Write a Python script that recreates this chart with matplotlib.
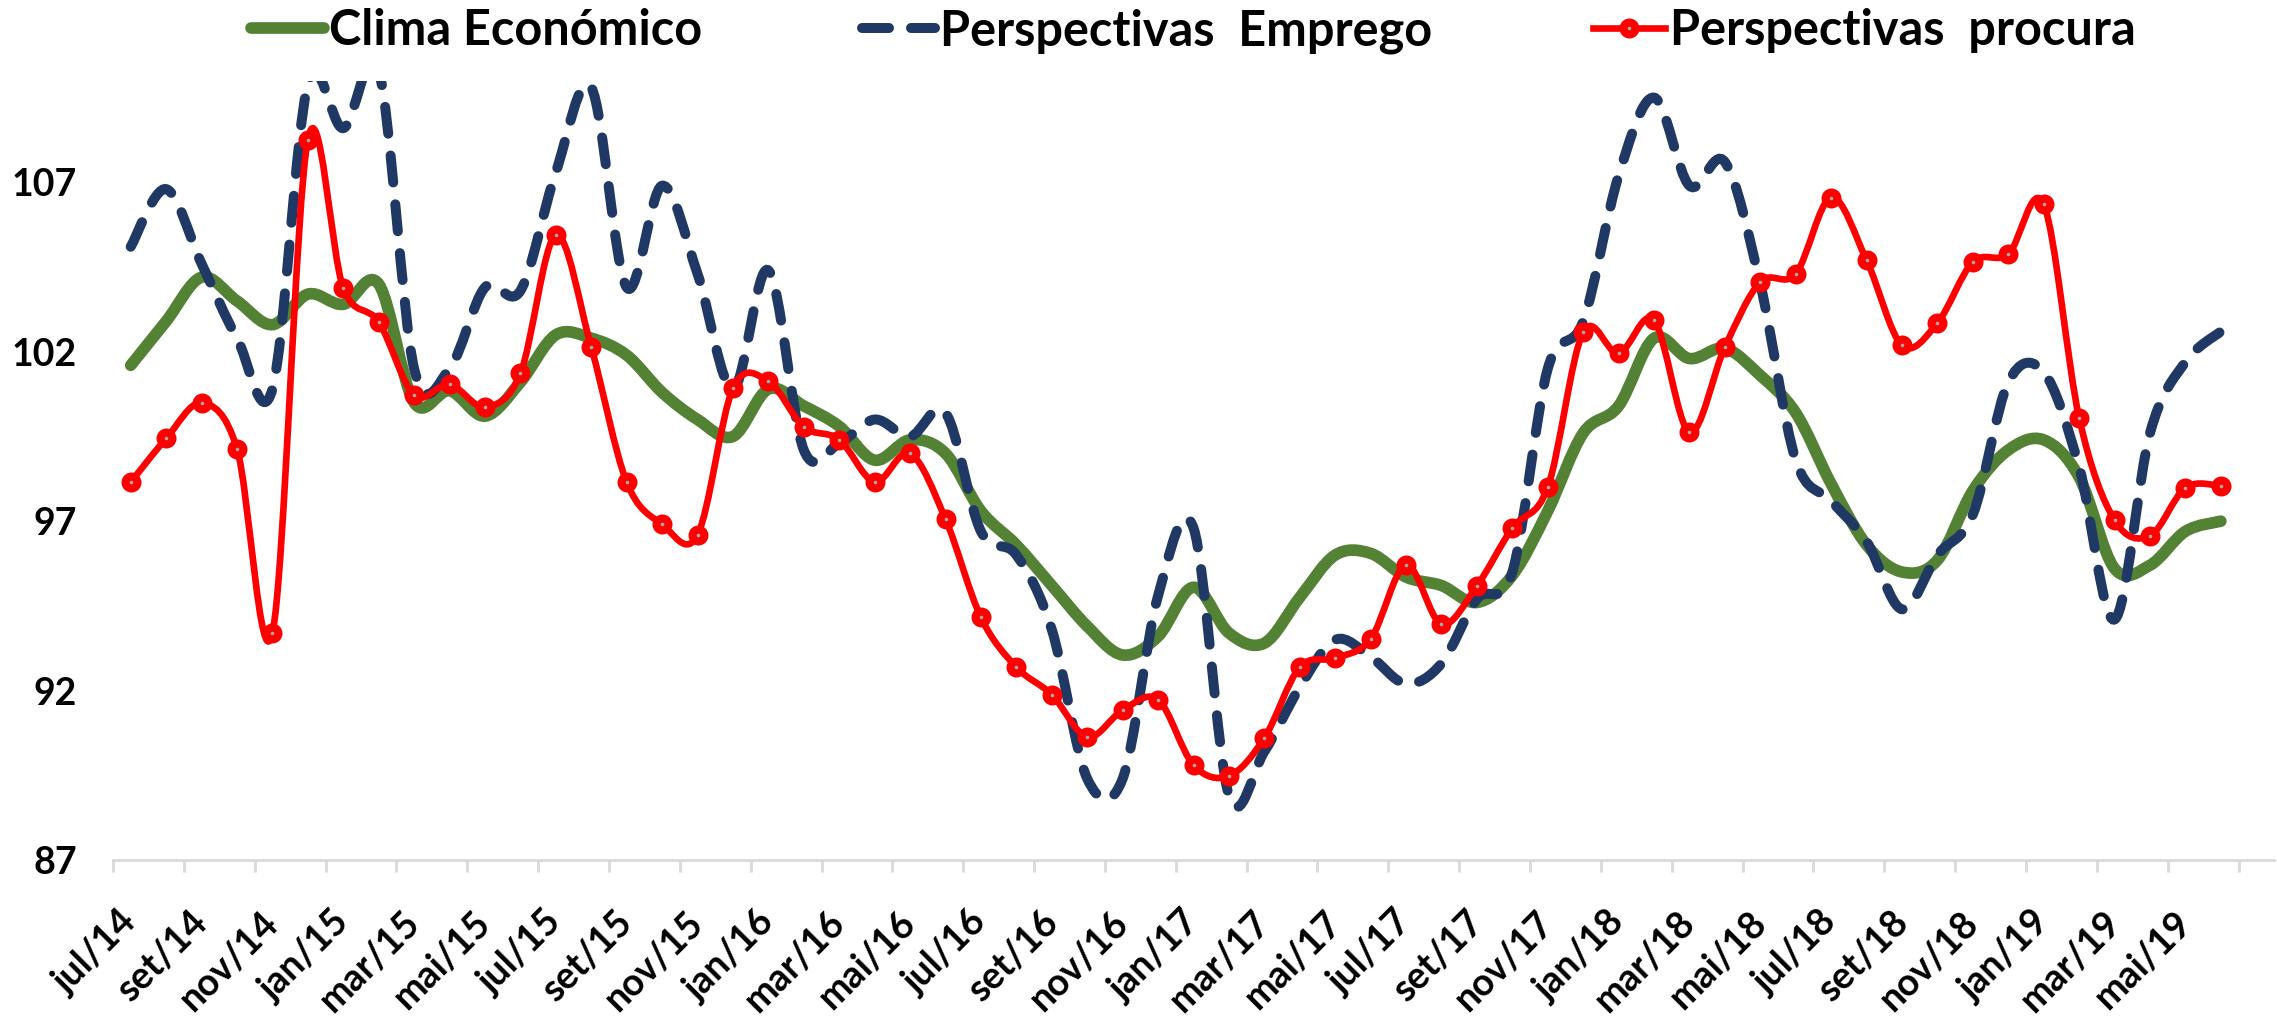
import numpy as np
import matplotlib
matplotlib.use("Agg")
import matplotlib.pyplot as plt
from matplotlib.path import Path
from matplotlib.patches import PathPatch
from matplotlib.lines import Line2D

# monthly data, jul/14 .. jun/19 (labels every 2nd month)
labels = ["jul/14", "set/14", "nov/14", "jan/15", "mar/15", "mai/15",
          "jul/15", "set/15", "nov/15", "jan/16", "mar/16", "mai/16",
          "jul/16", "set/16", "nov/16", "jan/17", "mar/17", "mai/17",
          "jul/17", "set/17", "nov/17", "jan/18", "mar/18", "mai/18",
          "jul/18", "set/18", "nov/18", "jan/19", "mar/19", "mai/19"]

clima = [101.6, 102.9, 104.2, 103.5, 102.8, 103.7, 103.4, 104.0, 100.5, 100.85,
         100.1, 101.1, 102.5, 102.4, 101.9, 100.8, 100.0, 99.5, 100.9, 100.4,
         99.8, 98.8, 99.4, 99.0, 97.3, 96.3, 95.1, 93.9, 93.05, 93.6,
         95.05, 93.7, 93.4, 94.75, 96.0, 96.05, 95.35, 95.1, 94.6, 95.4,
         97.3, 99.6, 100.4, 102.4, 101.8, 102.1, 101.3, 100.2, 98.1, 96.3,
         95.5, 95.85, 97.9, 99.1, 99.4, 98.3, 95.6, 95.7, 96.7, 97.0]

emprego = [105.1, 106.8, 104.6, 102.4, 100.9, 109.9, 108.6, 110.3, 101.5, 101.5,
           103.9, 103.8, 107.3, 109.8, 103.9, 106.9, 104.3, 100.9, 104.4, 99.1,
           99.3, 100.0, 99.5, 100.2, 96.7, 96.0, 93.8, 89.4, 89.4, 94.8,
           96.8, 88.9, 90.2, 92.1, 93.5, 93.0, 92.2, 92.8, 94.7, 95.5,
           101.5, 102.9, 107.2, 109.5, 106.9, 107.6, 104.0, 98.8, 97.6, 96.4,
           94.4, 96.0, 97.2, 101.1, 101.4, 98.6, 94.1, 99.6, 101.7, 102.6]

procura = [98.15, 99.44, 100.49, 99.14, 93.7, 108.26, 103.88, 102.88, 100.72, 101.04,
           100.37, 101.36, 105.44, 102.13, 98.15, 96.91, 96.59, 100.92, 101.13, 99.78,
           99.41, 98.16, 99.0, 97.06, 94.16, 92.69, 91.88, 90.63, 91.42, 91.73,
           89.8, 89.48, 90.6, 92.69, 92.96, 93.52, 95.7, 93.96, 95.09, 96.8,
           98.0, 102.58, 101.95, 102.93, 99.63, 102.14, 104.06, 104.3, 106.55, 104.7,
           102.19, 102.85, 104.65, 104.88, 106.35, 100.05, 97.03, 96.57, 97.99, 98.04]

GREEN = "#548235"
BLUE = "#1F3864"
RED = "#FF0000"
GRAY = "#A6A6A6"
AXIS = "#D9D9D9"
FONT = ["Lato", "DejaVu Sans"]
DASH = (0, (2.7, 2.2))


def smooth_path(y):
    # smoothed line like the spreadsheet one: bezier segments through each point
    n = len(y)
    p = np.column_stack([np.arange(n), y])
    verts = [p[0]]
    codes = [Path.MOVETO]
    for i in range(n - 1):
        a = p[max(i - 1, 0)]
        b = p[min(i + 2, n - 1)]
        verts += [p[i] + (p[i + 1] - a) / 6, p[i + 1] - (b - p[i]) / 6, p[i + 1]]
        codes += [Path.CURVE4] * 3
    return Path(verts, codes)


x = np.arange(len(procura))

fig = plt.figure(figsize=(22.77, 10.18), dpi=100)
ax = fig.add_axes([0.04963, 0.15521, 0.94905, 0.76552])

ax.add_patch(PathPatch(smooth_path(clima), fill=False, edgecolor=GREEN, lw=8.4,
                       capstyle="round", joinstyle="round", zorder=2))
ax.add_patch(PathPatch(smooth_path(emprego), fill=False, edgecolor=BLUE, lw=7.2,
                       linestyle=DASH, capstyle="round", zorder=3))
ax.add_patch(PathPatch(smooth_path(procura), fill=False, edgecolor=RED, lw=4.8,
                       capstyle="round", joinstyle="round", zorder=4))
ax.plot(x, procura, linestyle="none", marker="o", ms=8.6, mew=5.8,
        mec=RED, mfc=GRAY, zorder=5)

ax.set_xlim(-0.5, 60.5)
ax.set_ylim(87, 110)

ax.set_xticks(np.arange(0, 60, 2))
ax.set_xticklabels(labels, rotation=45, ha="right", va="center",
                   rotation_mode="anchor")
ax.set_xticks(np.arange(-0.5, 60, 2), minor=True)
ax.set_yticks([87, 92, 97, 102, 107])

for lab in ax.get_xticklabels() + ax.get_yticklabels():
    lab.set_family(FONT)
    lab.set_fontweight("bold")
    lab.set_fontsize(27)

ax.tick_params(axis="x", which="major", length=0, pad=41)
ax.tick_params(axis="x", which="minor", length=8.6, width=2, color=AXIS)
ax.tick_params(axis="y", length=0, pad=26)

for side in ["left", "right", "top"]:
    ax.spines[side].set_visible(False)
ax.spines["bottom"].set_color(AXIS)
ax.spines["bottom"].set_linewidth(2)

h1 = Line2D([], [], color=GREEN, lw=8.4, solid_capstyle="round")
h2 = Line2D([], [], color=BLUE, lw=7.2, linestyle=DASH, dash_capstyle="round")
h3 = Line2D([], [], color=RED, lw=4.8, marker="o", ms=8.6, mew=5.8,
            mec=RED, mfc=GRAY)
ax.legend([h1, h2, h3],
          ["Clima Económico", "Perspectivas  Emprego", "Perspectivas  procura"],
          loc="lower center", bbox_to_anchor=(0.5, 1.0), ncol=3, frameon=False,
          prop={"family": FONT, "weight": "bold", "size": 35},
          handlelength=1.5, handletextpad=0.1, columnspacing=3.3,
          borderaxespad=0.15)

fig.savefig("out.png", dpi=100)
